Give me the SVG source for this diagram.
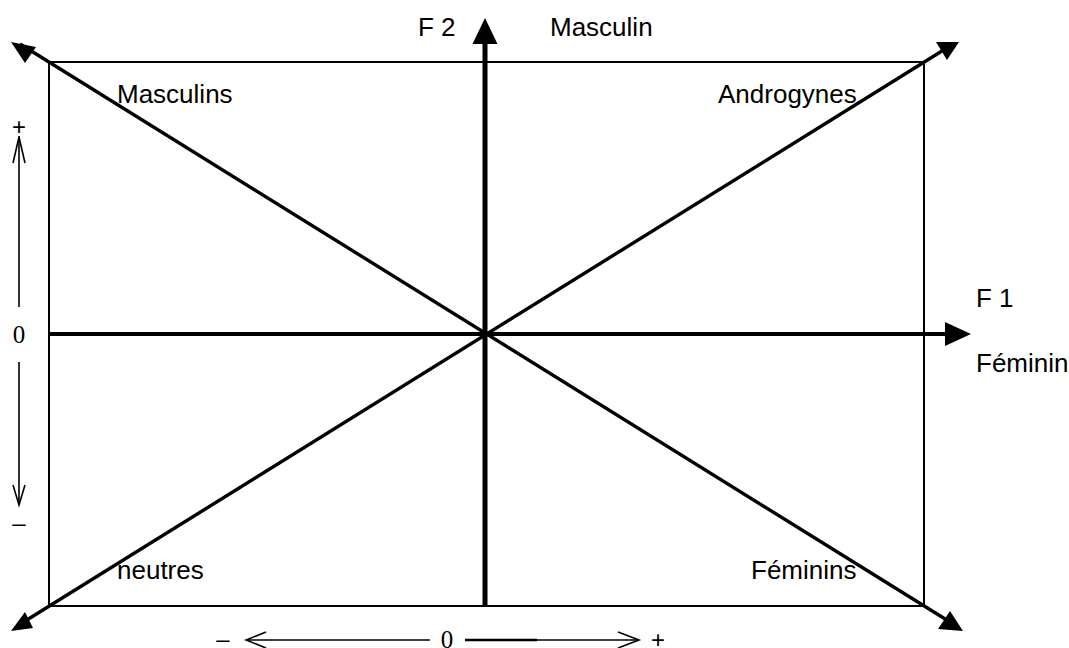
<svg xmlns="http://www.w3.org/2000/svg" width="1069" height="648" viewBox="0 0 1069 648">
  <style>
    .lbl { font-family: "Liberation Sans", Arial, sans-serif; font-size: 26px; fill: #000; }
    .sign { font-family: "Liberation Sans", Arial, sans-serif; font-size: 24px; fill: #000; }
    .zero { font-family: "Liberation Serif", "Times New Roman", serif; font-size: 25px; fill: #000; }
    .head { fill: #000; stroke: none; }
    .thin { stroke: #000; stroke-width: 1.6; fill: none; }
    .open { stroke: #000; stroke-width: 1.6; fill: none; stroke-linejoin: miter; }
  </style>

  <g id="frame">
    <rect x="49" y="62" width="875" height="544" fill="none" stroke="#000" stroke-width="2"/>
  </g>

  <g id="connectors">
    <!-- diagonals -->
    <line x1="20" y1="44" x2="950" y2="622" stroke="#000" stroke-width="3.4"/>
    <line x1="22" y1="623" x2="950" y2="46" stroke="#000" stroke-width="3.4"/>
    <polygon class="head" points="11,42 36,47 25,63"/>
    <polygon class="head" points="936,42 959,42 947,60"/>
    <polygon class="head" points="11,631 33,628 25,612"/>
    <polygon class="head" points="938,629 963,631 950,611"/>
    <!-- F2 axis -->
    <line x1="485" y1="606" x2="485" y2="42" stroke="#000" stroke-width="5"/>
    <polygon class="head" points="485,18 497.5,44 472.5,44"/>
    <!-- F1 axis -->
    <line x1="49" y1="334" x2="947" y2="334" stroke="#000" stroke-width="4"/>
    <polygon class="head" points="971,334 945,322 945,346"/>
    <!-- left scale -->
    <line class="thin" x1="19" y1="136" x2="19" y2="307"/>
    <polyline class="open" points="13,163 19,137 25,163"/>
    <line class="thin" x1="19" y1="362" x2="19" y2="503"/>
    <polyline class="open" points="13,485 19,505 25,485"/>
    <!-- bottom scale -->
    <line class="thin" x1="247" y1="640" x2="430" y2="640"/>
    <polyline class="open" points="266,632 246,640 266,648"/>
    <line class="thin" x1="465" y1="640" x2="637" y2="640"/>
    <line x1="465" y1="640" x2="537" y2="640" stroke="#000" stroke-width="2.4"/>
    <polyline class="open" points="618,632 639,640 618,648"/>
  </g>

  <g id="label-f2"><text class="lbl" x="418" y="36">F 2</text></g>
  <g id="label-masculin"><text class="lbl" x="550" y="36">Masculin</text></g>
  <g id="label-masculins"><text class="lbl" x="117" y="103">Masculins</text></g>
  <g id="label-androgynes"><text class="lbl" x="718" y="103">Androgynes</text></g>
  <g id="label-f1"><text class="lbl" x="976" y="307">F 1</text></g>
  <g id="label-feminin"><text class="lbl" x="976" y="372">Féminin</text></g>
  <g id="label-neutres"><text class="lbl" x="117" y="579">neutres</text></g>
  <g id="label-feminins"><text class="lbl" x="751" y="579">Féminins</text></g>

  <g id="scale-left">
    <text class="sign" x="19" y="135" text-anchor="middle">+</text>
    <text class="zero" x="19" y="343" text-anchor="middle">0</text>
    <text class="sign" x="19" y="531" text-anchor="middle">–</text>
  </g>
  <g id="scale-bottom">
    <text class="sign" x="223" y="647" text-anchor="middle">–</text>
    <text class="zero" x="447" y="648" text-anchor="middle">0</text>
    <text class="sign" x="658" y="648" text-anchor="middle">+</text>
  </g>
</svg>
